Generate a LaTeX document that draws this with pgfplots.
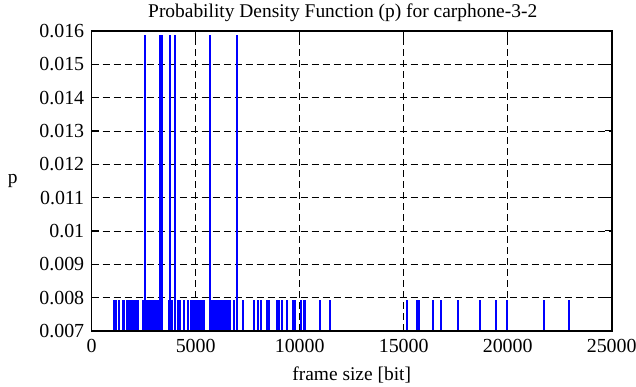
\documentclass[border=0pt]{standalone}
\usepackage{fontspec}
\setmainfont{Liberation Serif}
\usepackage{pgfplots}
\pgfplotsset{compat=1.18}
\begin{document}
\begin{tikzpicture}
\begin{axis}[
  scale only axis,
  width=520bp, height=300bp,
  xmin=0, xmax=25000, ymin=0.007, ymax=0.016,
  xtick={0,5000,10000,15000,20000,25000},
  ytick={0.007,0.008,0.009,0.010,0.011,0.012,0.013,0.014,0.015,0.016},
  scaled x ticks=false, scaled y ticks=false,
  xticklabel style={yshift=-5bp, /pgf/number format/fixed, /pgf/number format/set thousands separator={}},
  yticklabel style={xshift=-4bp, /pgf/number format/fixed, /pgf/number format/precision=3},
  /pgf/number format/assume math mode=true,
  tick label style={font=\fontsize{20pt}{23pt}\selectfont},
  title style={font=\fontsize{19.5pt}{22pt}\selectfont, at={(0.5,1)}, anchor=south, yshift=0bp, xshift=-9bp},
  title={Probability Density Function (p) for carphone-3-2},
  xlabel={frame size [bit]},
  ylabel={p},
  every axis y label/.style={at={(rel axis cs:0,0.5)}, xshift=-79bp, anchor=center, font=\fontsize{19.5pt}{22pt}\selectfont},
  every axis x label/.style={at={(rel axis cs:0.5,0)}, yshift=-44bp, anchor=center, font=\fontsize{19.5pt}{22pt}\selectfont},
  major grid style={black, line width=0.8bp, dash pattern=on 7bp off 4bp},
  grid=major,
  tick align=inside,
  major tick length=7bp,
  tick style={black, line width=1bp},
  axis line style={line width=1.6bp},
]
\addplot[ycomb, blue, line width=2bp, mark=none] coordinates {
(1058,0.0079365) (1144,0.0079365) (1183,0.0079365) (1322,0.0079365)
(1505,0.0079365) (1553,0.0079365) (1697,0.0079365) (1784,0.0079365)
(1870,0.0079365) (1957,0.0079365) (2043,0.0079365) (2130,0.0079365)
(2217,0.0079365) (2486,0.0079365) (2654,0.0079365) (2741,0.0079365)
(2827,0.0079365) (2914,0.0079365) (3000,0.0079365) (3087,0.0079365)
(3174,0.0079365) (3230,0.0079365) (3702,0.0079365) (3846,0.0079365)
(4135,0.0079365) (4231,0.0079365) (4414,0.0079365) (4606,0.0079365)
(4774,0.0079365) (4861,0.0079365) (4948,0.0079365) (5034,0.0079365)
(5121,0.0079365) (5207,0.0079365) (5294,0.0079365) (5380,0.0079365)
(5774,0.0079365) (5861,0.0079365) (5947,0.0079365) (6034,0.0079365)
(6121,0.0079365) (6207,0.0079365) (6294,0.0079365) (6380,0.0079365)
(6467,0.0079365) (6554,0.0079365) (6650,0.0079365) (6842,0.0079365)
(7250,0.0079365) (7789,0.0079365) (7981,0.0079365) (8140,0.0079365)
(8429,0.0079365) (8525,0.0079365) (8910,0.0079365) (8981,0.0079365)
(9164,0.0079365) (9390,0.0079365) (9664,0.0079365) (9760,0.0079365)
(10063,0.0079365) (10193,0.0079365) (10241,0.0079365) (10977,0.0079365)
(11458,0.0079365) (15160,0.0079365) (15640,0.0079365) (15736,0.0079365)
(16400,0.0079365) (16804,0.0079365) (17602,0.0079365) (18670,0.0079365)
(19449,0.0079365) (19968,0.0079365) (21761,0.0079365) (22958,0.0079365)
};
\addplot[ycomb, blue, line width=2bp, mark=none] coordinates {
(2563,0.015873) (3284,0.015873) (3366,0.015873) (3765,0.015873)
(4005,0.015873) (5688,0.015873) (6972,0.015873)
};
\draw[black, line width=1.6bp] (rel axis cs:0,0) rectangle (rel axis cs:1,1);
\coordinate (SW) at (rel axis cs:0,0);
\coordinate (NE) at (rel axis cs:1,1);
\end{axis}
\pgfresetboundingbox
\path[use as bounding box] ([shift={(-91.7bp,-56bp)}]SW) rectangle ([shift={(24.3bp,31bp)}]NE);
\end{tikzpicture}
\end{document}
